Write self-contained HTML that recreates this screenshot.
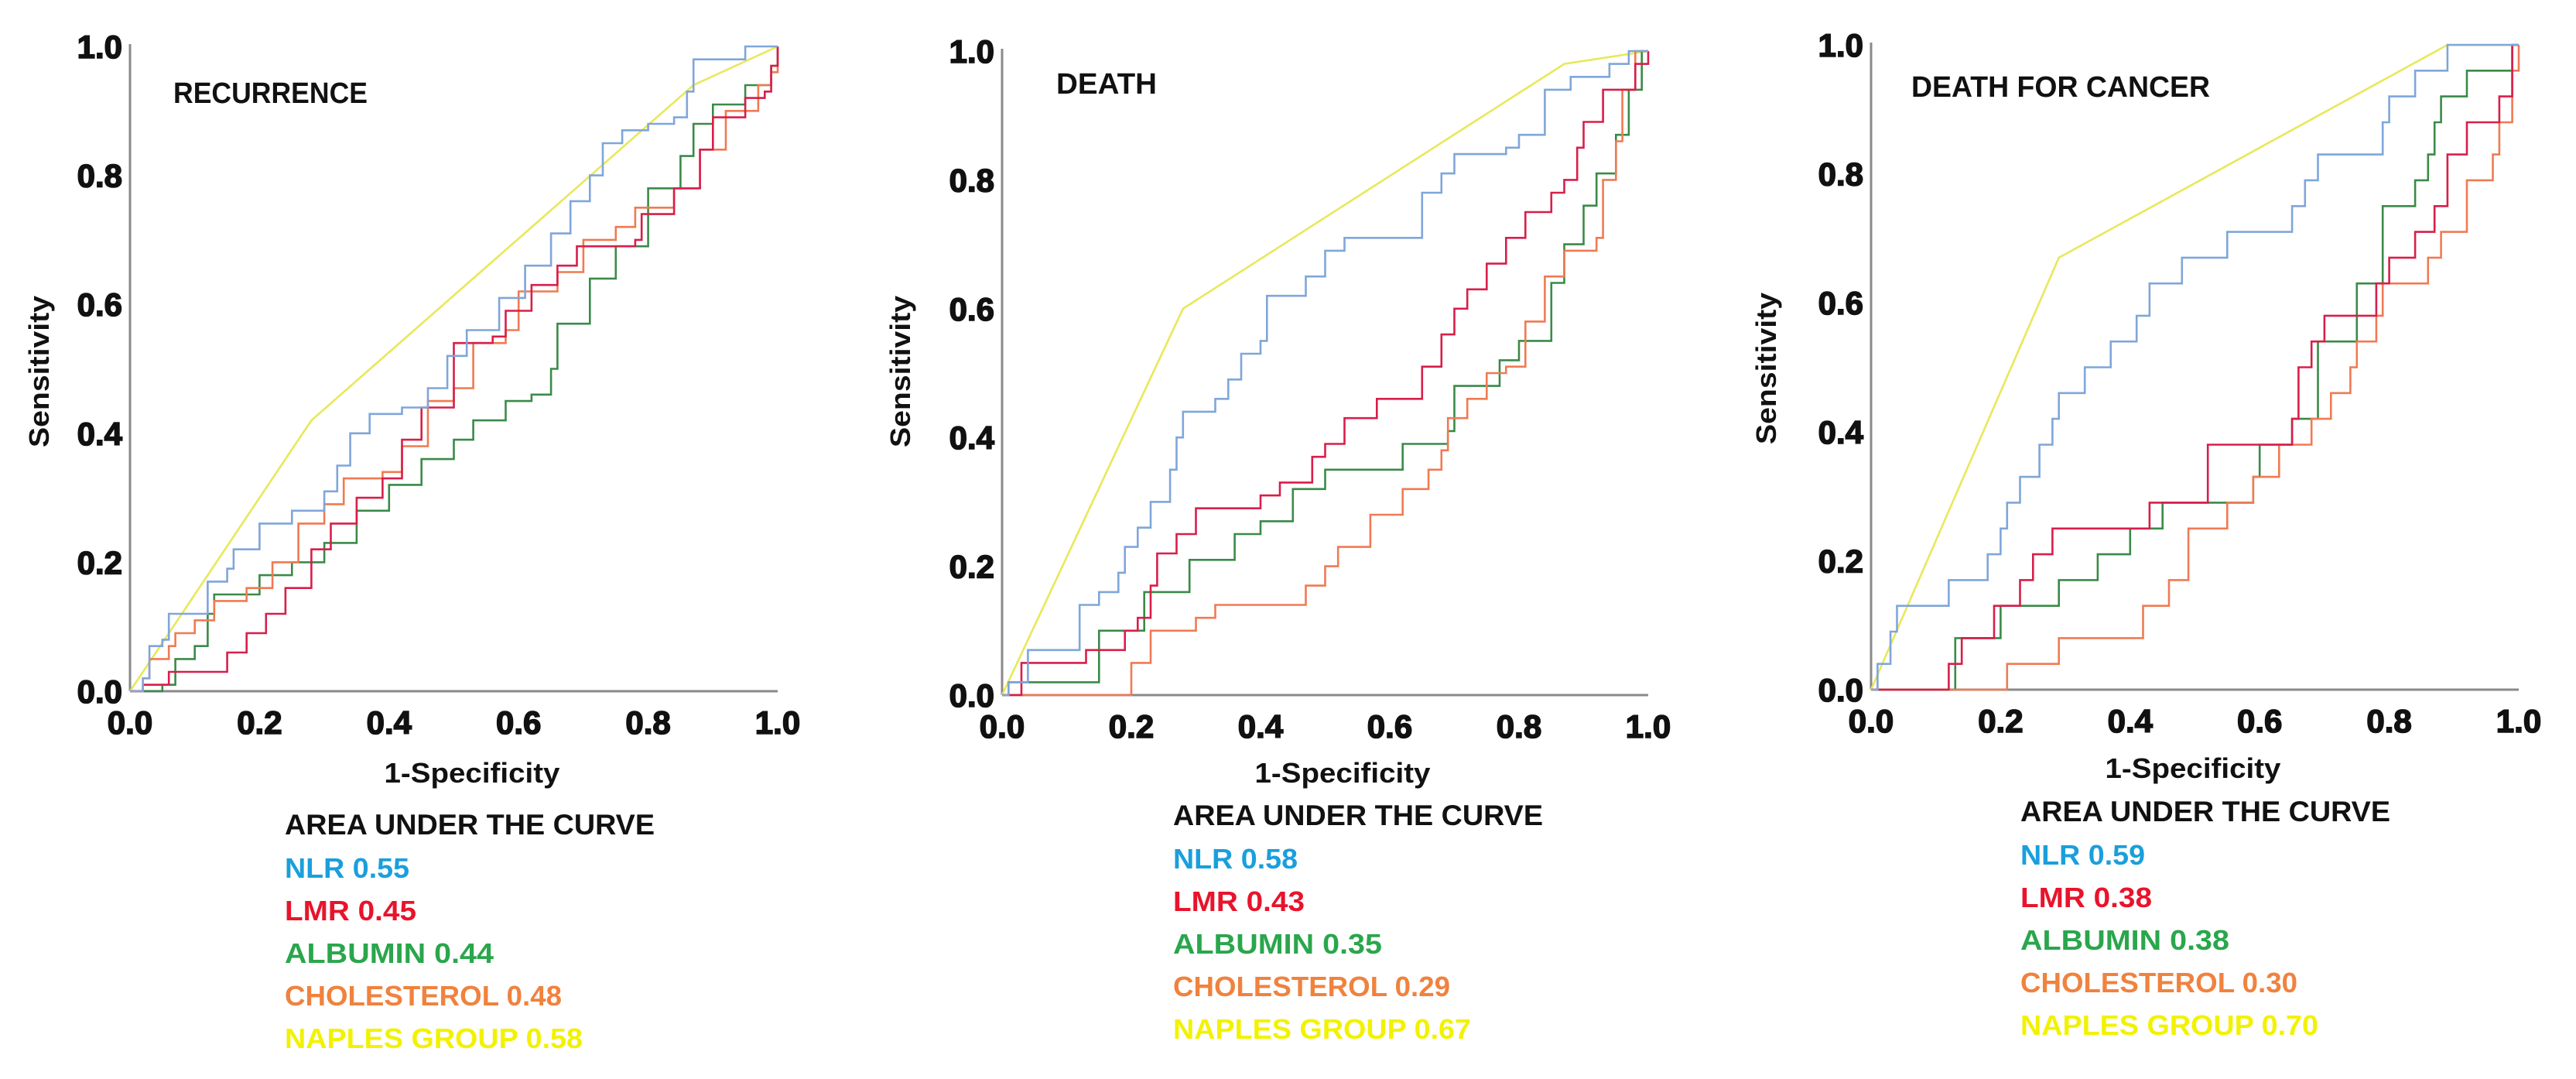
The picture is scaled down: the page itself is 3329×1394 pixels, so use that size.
<!DOCTYPE html>
<html><head><meta charset="utf-8">
<style>
html,body{margin:0;padding:0;background:#fff;}
svg{display:block;}
text{font-family:"Liberation Sans",sans-serif;font-weight:bold;}
</style></head>
<body>
<svg id="chart" width="3329" height="1394" viewBox="0 0 3329 1394" xmlns="http://www.w3.org/2000/svg"></svg>
<script>
// ---------- data ----------
const tickLabels = ["0.0","0.2","0.4","0.6","0.8","1.0"];
const tickValues = [0,0.2,0.4,0.6,0.8,1.0];
const seriesNames = ["NLR","LMR","ALBUMIN","CHOLESTEROL","NAPLES GROUP"];
const panelTitles = ["RECURRENCE","DEATH","DEATH FOR CANCER"];
const aucRecurrence = ["0.55","0.45","0.44","0.48","0.58"];
const aucDeath = ["0.58","0.43","0.35","0.29","0.67"];
const aucCancer = ["0.59","0.38","0.38","0.30","0.70"];

const recNLR = [[0,0],[0.02,0.02],[0.03,0.07],[0.05,0.08],[0.06,0.12],[0.1,0.12],[0.12,0.17],[0.15,0.19],[0.16,0.22],[0.2,0.26],[0.25,0.28],[0.3,0.31],[0.32,0.35],[0.34,0.40],[0.37,0.43],[0.42,0.44],[0.46,0.47],[0.49,0.52],[0.52,0.56],[0.57,0.61],[0.61,0.66],[0.65,0.71],[0.68,0.76],[0.71,0.80],[0.73,0.85],[0.76,0.87],[0.8,0.88],[0.84,0.89],[0.86,0.93],[0.87,0.98],[0.94,0.98],[0.95,1.0],[1,1]];
const recLMR = [[0,0],[0.02,0.01],[0.05,0.01],[0.06,0.03],[0.13,0.03],[0.15,0.06],[0.18,0.09],[0.21,0.12],[0.24,0.16],[0.28,0.22],[0.31,0.26],[0.35,0.30],[0.39,0.33],[0.42,0.39],[0.45,0.44],[0.5,0.46],[0.5,0.54],[0.56,0.55],[0.58,0.59],[0.62,0.63],[0.66,0.66],[0.69,0.69],[0.78,0.70],[0.79,0.74],[0.84,0.78],[0.88,0.84],[0.9,0.89],[0.95,0.92],[0.98,0.93],[0.99,0.97],[1,1]];
const recALB = [[0,0],[0.05,0.01],[0.07,0.05],[0.1,0.07],[0.12,0.12],[0.13,0.15],[0.2,0.18],[0.25,0.2],[0.3,0.23],[0.35,0.28],[0.4,0.32],[0.45,0.36],[0.5,0.39],[0.53,0.42],[0.58,0.45],[0.62,0.46],[0.65,0.5],[0.66,0.57],[0.68,0.57],[0.71,0.64],[0.75,0.69],[0.8,0.78],[0.85,0.83],[0.87,0.88],[0.9,0.91],[0.95,0.94],[0.99,0.97],[1,1]];
const recCHOL = [[0,0],[0.02,0.02],[0.03,0.05],[0.06,0.07],[0.07,0.09],[0.1,0.11],[0.13,0.14],[0.18,0.16],[0.22,0.2],[0.26,0.26],[0.3,0.29],[0.33,0.33],[0.39,0.34],[0.42,0.38],[0.46,0.45],[0.5,0.47],[0.53,0.54],[0.58,0.56],[0.6,0.62],[0.66,0.65],[0.7,0.70],[0.75,0.72],[0.78,0.75],[0.84,0.78],[0.88,0.84],[0.92,0.90],[0.97,0.94],[0.99,0.96],[1,1]];
const recNAP = [[0,0],[0.28,0.42],[0.87,0.94],[1,1]];

const dthNLR = [[0,0],[0.01,0.02],[0.04,0.07],[0.11,0.07],[0.12,0.14],[0.15,0.16],[0.18,0.19],[0.19,0.23],[0.21,0.26],[0.23,0.3],[0.26,0.35],[0.27,0.4],[0.28,0.44],[0.33,0.46],[0.35,0.49],[0.37,0.53],[0.4,0.55],[0.41,0.62],[0.47,0.65],[0.5,0.69],[0.53,0.71],[0.63,0.71],[0.65,0.78],[0.68,0.81],[0.7,0.84],[0.78,0.85],[0.8,0.87],[0.84,0.9],[0.84,0.94],[0.88,0.96],[0.94,0.98],[0.97,1.0],[1,1]];
const dthLMR = [[0,0],[0.03,0],[0.03,0.05],[0.12,0.05],[0.13,0.07],[0.19,0.1],[0.21,0.12],[0.23,0.17],[0.24,0.22],[0.27,0.25],[0.3,0.29],[0.4,0.31],[0.43,0.33],[0.48,0.37],[0.5,0.39],[0.53,0.43],[0.58,0.46],[0.65,0.46],[0.65,0.51],[0.68,0.56],[0.7,0.6],[0.72,0.63],[0.75,0.67],[0.78,0.71],[0.81,0.75],[0.85,0.78],[0.87,0.8],[0.89,0.85],[0.9,0.89],[0.93,0.94],[0.97,0.94],[0.98,0.98],[1,1]];
const dthALB = [[0,0],[0.01,0.02],[0.14,0.02],[0.15,0.1],[0.2,0.1],[0.22,0.16],[0.29,0.16],[0.29,0.21],[0.32,0.21],[0.36,0.25],[0.4,0.27],[0.45,0.32],[0.5,0.35],[0.6,0.35],[0.62,0.39],[0.67,0.39],[0.69,0.41],[0.7,0.48],[0.73,0.48],[0.77,0.52],[0.8,0.55],[0.85,0.64],[0.87,0.7],[0.9,0.76],[0.92,0.81],[0.95,0.87],[0.97,0.93],[0.97,0.94],[0.99,0.94],[0.99,1.0],[1,1]];
const dthCHOL = [[0,0],[0.18,0],[0.2,0.05],[0.23,0.1],[0.28,0.1],[0.3,0.12],[0.33,0.14],[0.43,0.14],[0.47,0.17],[0.5,0.2],[0.52,0.23],[0.57,0.28],[0.62,0.32],[0.66,0.35],[0.68,0.38],[0.69,0.43],[0.72,0.46],[0.75,0.5],[0.78,0.51],[0.81,0.58],[0.84,0.65],[0.87,0.69],[0.92,0.71],[0.93,0.8],[0.95,0.86],[0.96,0.94],[0.98,1.0],[1,1]];
const dthNAP = [[0,0],[0.28,0.6],[0.87,0.98],[1,1]];

const canNLR = [[0,0],[0.01,0.04],[0.03,0.09],[0.04,0.13],[0.12,0.13],[0.12,0.17],[0.18,0.17],[0.18,0.21],[0.2,0.25],[0.21,0.29],[0.23,0.33],[0.26,0.33],[0.26,0.38],[0.28,0.42],[0.29,0.46],[0.33,0.46],[0.33,0.5],[0.37,0.5],[0.37,0.54],[0.41,0.54],[0.41,0.58],[0.43,0.58],[0.43,0.63],[0.48,0.63],[0.48,0.67],[0.55,0.67],[0.55,0.71],[0.65,0.71],[0.65,0.75],[0.67,0.75],[0.67,0.79],[0.69,0.79],[0.69,0.83],[0.79,0.83],[0.79,0.88],[0.8,0.88],[0.8,0.92],[0.84,0.92],[0.84,0.96],[0.89,0.96],[0.89,1.0],[1,1]];
const canLMR = [[0,0],[0.12,0],[0.12,0.04],[0.14,0.04],[0.14,0.08],[0.19,0.08],[0.19,0.13],[0.23,0.13],[0.23,0.17],[0.25,0.17],[0.25,0.21],[0.28,0.21],[0.28,0.25],[0.43,0.25],[0.43,0.29],[0.52,0.29],[0.52,0.38],[0.65,0.38],[0.65,0.42],[0.66,0.5],[0.68,0.5],[0.68,0.54],[0.7,0.54],[0.7,0.58],[0.78,0.58],[0.78,0.63],[0.8,0.63],[0.8,0.67],[0.84,0.67],[0.84,0.71],[0.87,0.71],[0.87,0.75],[0.89,0.75],[0.89,0.83],[0.92,0.83],[0.92,0.88],[0.96,0.88],[0.97,0.92],[0.98,0.92],[0.99,0.96],[0.99,1.0],[1,1]];
const canALB = [[0,0],[0.13,0],[0.13,0.08],[0.19,0.08],[0.2,0.13],[0.28,0.13],[0.29,0.17],[0.32,0.17],[0.35,0.21],[0.39,0.21],[0.4,0.25],[0.44,0.25],[0.45,0.29],[0.58,0.29],[0.59,0.33],[0.6,0.38],[0.64,0.38],[0.65,0.42],[0.66,0.42],[0.69,0.54],[0.71,0.54],[0.75,0.63],[0.77,0.63],[0.79,0.75],[0.8,0.75],[0.84,0.79],[0.86,0.83],[0.87,0.88],[0.88,0.92],[0.92,0.96],[0.99,0.96],[0.99,1.0],[1,1]];
const canCHOL = [[0,0],[0.21,0],[0.21,0.04],[0.28,0.04],[0.29,0.08],[0.4,0.08],[0.42,0.13],[0.45,0.13],[0.46,0.17],[0.49,0.21],[0.49,0.25],[0.52,0.25],[0.55,0.29],[0.58,0.29],[0.59,0.33],[0.62,0.33],[0.63,0.38],[0.67,0.38],[0.68,0.42],[0.7,0.42],[0.71,0.46],[0.73,0.46],[0.74,0.5],[0.75,0.54],[0.77,0.54],[0.78,0.58],[0.79,0.63],[0.84,0.63],[0.86,0.67],[0.87,0.67],[0.88,0.71],[0.91,0.71],[0.92,0.79],[0.95,0.79],[0.96,0.83],[0.97,0.88],[0.99,0.88],[0.99,0.96],[1,1]];
const canNAP = [[0,0],[0.29,0.67],[0.89,1.0],[1,1]];

// ---------- rendering ----------
const NS = "http://www.w3.org/2000/svg";
const svg = document.getElementById("chart");
const lineColors = ["#7FA6DA","#D81E4A","#3A8A48","#F07A52","#E8E85A"];
const legendColors = ["#1A9FDC","#E8142C","#2AA64C","#F0823E","#F2F200"];
const legendWidths = [161,170,270,358,385];
const keys = ["nlr","lmr","albumin","cholesterol","naples"];

const panels = [
  {x0:168,x1:1005,y0:893,y1:60,title:panelTitles[0],tx:224,tw:251,ty:133,auc:aucRecurrence,series:[recNLR,recLMR,recALB,recCHOL,recNAP],lx:368,ly:1078,sx:610,sy:1011,slx:50,sly:480,name:"recurrence"},
  {x0:1295,x1:2130,y0:898,y1:66,title:panelTitles[1],tx:1365,tw:130,ty:121,auc:aucDeath,series:[dthNLR,dthLMR,dthALB,dthCHOL,dthNAP],lx:1516,ly:1066,sx:1735,sy:1011,slx:1163,sly:480,name:"death"},
  {x0:2418,x1:3255,y0:891,y1:58,title:panelTitles[2],tx:2470,tw:386,ty:125,auc:aucCancer,series:[canNLR,canLMR,canALB,canCHOL,canNAP],lx:2611,ly:1061,sx:2834,sy:1005,slx:2282,sly:476,name:"death-for-cancer"}
];

function mk(tag, attrs, parent){
  const e = document.createElementNS(NS, tag);
  for (const k in attrs) e.setAttribute(k, attrs[k]);
  (parent||svg).appendChild(e);
  return e;
}

panels.forEach(p => {
  const g = mk("g", {});
  
  
  const xs = v => p.x0 + v*(p.x1-p.x0);
  const ys = v => p.y0 - v*(p.y0-p.y1);

  const ya = mk("line",{x1:p.x0,y1:p.y1-3,x2:p.x0,y2:p.y0,stroke:"#8a8a8a","stroke-width":3},g);
  
  
  const xa = mk("line",{x1:p.x0,y1:p.y0,x2:p.x1,y2:p.y0,stroke:"#8a8a8a","stroke-width":3},g);
  
  

  tickValues.forEach((v,i) => {
    const t = mk("text",{x:p.x0-10,y:ys(v)+15,"text-anchor":"end","font-size":42,fill:"#111",stroke:"#111","stroke-width":1.6},g);
    t.textContent = tickLabels[i];
    
    
    const tx = mk("text",{x:xs(v),y:p.y0+55,"text-anchor":"middle","font-size":42,fill:"#111",stroke:"#111","stroke-width":1.6},g);
    tx.textContent = tickLabels[i];
    
    
  });

  const xt = mk("text",{x:p.sx,y:p.sy,"text-anchor":"middle","font-size":36,fill:"#111",textLength:227,lengthAdjust:"spacingAndGlyphs"},g);
  xt.textContent = "1-Specificity";
  
  
  const yt = mk("text",{x:0,y:0,"text-anchor":"middle","font-size":36,fill:"#111",textLength:196,lengthAdjust:"spacingAndGlyphs",transform:`translate(${p.slx+13},${p.sly}) rotate(-90)`},g);
  yt.textContent = "Sensitivity";
  
  

  const tt = mk("text",{x:p.tx,y:p.ty,"font-size":38,fill:"#111",textLength:p.tw,lengthAdjust:"spacingAndGlyphs"},g);
  tt.textContent = p.title;
  
  

  const order = [4,2,3,1,0];
  order.forEach(si => {
    const data = p.series[si];
    let d = "M" + xs(data[0][0]).toFixed(1) + "," + ys(data[0][1]).toFixed(1);
    for (let k = 1; k < data.length; k++) {
      if (si === 4) {
        d += " L" + xs(data[k][0]).toFixed(1) + "," + ys(data[k][1]).toFixed(1);
      } else {
        d += " H" + xs(data[k][0]).toFixed(1) + " V" + ys(data[k][1]).toFixed(1);
      }
    }
    const pl = mk("path",{d:d,fill:"none",stroke:lineColors[si],"stroke-width":2.6},g);
    
    
  });

  const hd = mk("text",{x:p.lx,y:p.ly,"font-size":37,fill:"#111",textLength:478,lengthAdjust:"spacingAndGlyphs"},g);
  hd.textContent = "AREA UNDER THE CURVE";
  
  
  seriesNames.forEach((n,i) => {
    const le = mk("text",{x:p.lx,y:p.ly+55*(i+1)+1,"font-size":36,fill:legendColors[i],textLength:legendWidths[i],lengthAdjust:"spacingAndGlyphs"},g);
    le.textContent = n + " " + p.auc[i];
    
    
  });
});
</script>
</body></html>
